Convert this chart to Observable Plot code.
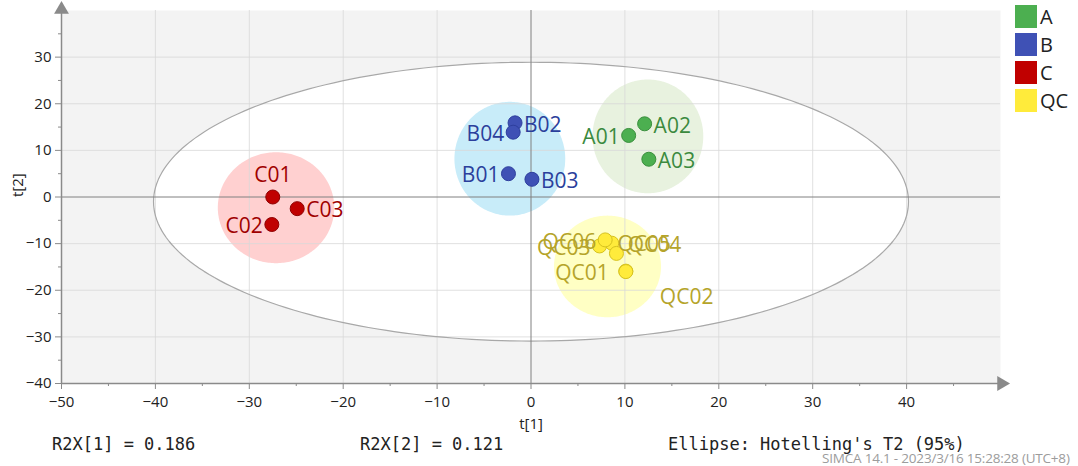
<!DOCTYPE html>
<html><head><meta charset="utf-8">
<script src="https://cdn.jsdelivr.net/npm/d3@7"></script>
<script src="https://cdn.jsdelivr.net/npm/@observablehq/plot@0.6"></script>
<style>
body{margin:0;background:#fff;}
#wrap{position:relative;width:1078px;height:466px;overflow:hidden;font-family:"Open Sans",sans-serif;}
#wrap svg{position:absolute;left:0;top:0;}
.legend{position:absolute;left:1015px;top:2px;}
.legend .item{display:flex;align-items:center;height:28px;}
.legend .sw{width:22px;height:23px;margin-right:3px;}
.legend .lab{font-size:20px;color:#222;line-height:23px;}
.stat{position:absolute;top:434px;font-family:"DejaVu Sans Mono",monospace;font-size:17px;color:#222;white-space:pre;}
.stamp{position:absolute;left:822px;top:449px;font-size:13.5px;color:#9c9c9c;white-space:pre;letter-spacing:-0.2px;}
</style></head><body><div id="wrap"></div>
<script>
// ---- data ----
const groups = ["A", "B", "C", "QC"];
const groupColors = ["#4caf50", "#3f51b5", "#c00000", "#ffeb3b"];
const groupStrokes = ["#3a8f3d", "#2e3f9e", "#8e0000", "#d6c21e"];
const labelColors = ["#3b8a3e", "#2b3f9c", "#a00000", "#b5a42a"];
const ellipseFills = ["#e8f2df", "#c8ecf9", "#ffd0d0", "#ffffc4"];

const sampleNames = ["A01","A02","A03","B01","B02","B03","B04","C01","C02","C03","QC01","QC02","QC03","QC04","QC05","QC06"];
const sampleGroups = ["A","A","A","B","B","B","B","C","C","C","QC","QC","QC","QC","QC","QC"];
const t1Values = [10.4, 12.1, 12.55, -2.4, -1.7, 0.1, -1.9, -27.5, -27.6, -24.9, 10.1, 10.1, 7.3, 8.6, 9.1, 7.9];
const t2Values = [13.2, 15.7, 8.1, 5.0, 15.9, 3.8, 13.9, 0.0, -5.9, -2.5, -15.9, -16.0, -10.5, -9.9, -12.1, -9.2];

// group confidence ellipses (center t1, center t2, radius t1, radius t2)
const groupCenterT1 = [12.5, -2.2, -27.1, 8.2];
const groupCenterT2 = [12.9, 8.1, -2.4, -15.0];
const groupRadiusT1 = [5.9, 5.9, 6.2, 5.7];
const groupRadiusT2 = [12.2, 12.2, 11.9, 10.9];

// Hotelling's T2 (95%) ellipse
const hotellingCenter = [0, -1.0];
const hotellingRadius = [40.2, 29.9];

const xTicks = [-50, -40, -30, -20, -10, 0, 10, 20, 30, 40];
const yTicks = [-40, -30, -20, -10, 0, 10, 20, 30];
const xMinor = [-45, -35, -25, -15, -5, 5, 15, 25, 35, 45];
const yMinor = [-35, -25, -15, -5, 5, 15, 25, 35];

const r2x1 = "0.186", r2x2 = "0.121";

// label placement (style)
const labelSide = {A01:"left",A02:"right",A03:"right",B01:"left",B02:"right",B03:"right",B04:"left",
  C01:"top",C02:"left",C03:"right",QC01:"farleft",QC02:"belowright",QC03:"left",QC04:"rightfar",QC05:"rightup",QC06:"left"};

// ---- build ----
const samples = sampleNames.map((n, i) => ({name: n, group: sampleGroups[i], t1: t1Values[i], t2: t2Values[i], side: labelSide[n]}));

function ellipseBand(cx, cy, rx, ry, extra) {
  const out = [];
  const N = 120;
  for (let i = 0; i <= N; i++) {
    const th = Math.PI - Math.PI * i / N;
    const s = Math.sin(th);
    out.push({x: cx + rx * Math.cos(th), y1: cy - ry * s, y2: cy + ry * s, ...extra});
  }
  return out;
}
function ellipseRing(cx, cy, rx, ry) {
  const out = [];
  const N = 240;
  for (let i = 0; i < N; i++) {
    const th = 2 * Math.PI * i / N;
    out.push({x: cx + rx * Math.cos(th), y: cy + ry * Math.sin(th)});
  }
  return out;
}
const groupBands = groups.flatMap((g, i) => ellipseBand(groupCenterT1[i], groupCenterT2[i], groupRadiusT1[i], groupRadiusT2[i], {group: g}));
const hotBand = ellipseBand(hotellingCenter[0], hotellingCenter[1], hotellingRadius[0], hotellingRadius[1], {});
const hotRing = ellipseRing(hotellingCenter[0], hotellingCenter[1], hotellingRadius[0], hotellingRadius[1]);

const colorScale = {domain: groups, range: groupColors};
const lblColor = d => labelColors[groups.indexOf(d.group)];
const strokeColor = d => groupStrokes[groups.indexOf(d.group)];
const fillOf = g => ellipseFills[groups.indexOf(g)];

const font = "Open Sans";
const labelFont = 21;
function labels(side, opts) {
  return Plot.text(samples.filter(d => d.side === side), {
    x: "t1", y: "t2", text: "name", fill: lblColor, fontSize: labelFont, fontFamily: font, ...opts
  });
}

const chart = Plot.plot({
  width: 1078, height: 466,
  marginLeft: 61, marginRight: 78, marginTop: 10, marginBottom: 83,
  x: {domain: [-50, 50], axis: null},
  y: {domain: [-40, 40], axis: null},
  style: {fontFamily: font, background: "transparent"},
  marks: [
    Plot.frame({fill: "#f3f3f3", stroke: null}),
    Plot.areaY(hotBand, {x: "x", y1: "y1", y2: "y2", fill: "#ffffff"}),
    ...groups.map(g => Plot.areaY(groupBands.filter(d => d.group === g), {x: "x", y1: "y1", y2: "y2", fill: fillOf(g)})),
    Plot.ruleX(xTicks.filter(v => v !== -50 && v !== 0), {stroke: "#d8d8d8", strokeOpacity: 0.8, strokeWidth: 1}),
    Plot.ruleY(yTicks.filter(v => v !== -40 && v !== 0), {stroke: "#d8d8d8", strokeOpacity: 0.8, strokeWidth: 1}),
    Plot.line(hotRing, {x: "x", y: "y", curve: "linear-closed", stroke: "#a8a8a8", strokeWidth: 1.2}),
    Plot.ruleX([0], {stroke: "#808080", strokeWidth: 1}),
    Plot.ruleY([0], {stroke: "#808080", strokeWidth: 1}),
    // axes
    Plot.ruleX([-50], {stroke: "#8a8a8a", strokeWidth: 1.5}),
    Plot.ruleY([-40], {stroke: "#8a8a8a", strokeWidth: 1.5}),
    Plot.dot([0], {frameAnchor: "top-left", symbol: "triangle", r: 5.5, fill: "#8a8a8a", stroke: null, dy: -1}),
    Plot.dot([0], {frameAnchor: "bottom-right", symbol: "triangle", r: 5.5, fill: "#8a8a8a", stroke: null, rotate: 90, dx: 1}),
    Plot.axisY({ticks: yTicks, tickSize: 6, tickPadding: 4, stroke: "#8a8a8a", fill: "#222", fontSize: 15, label: null}),
    Plot.axisY({ticks: yMinor, tickSize: 3, tickFormat: () => "", stroke: "#8a8a8a", label: null}),
    Plot.axisX({ticks: xTicks, tickSize: 6, tickPadding: 7, stroke: "#8a8a8a", fill: "#222", fontSize: 15, label: null}),
    Plot.axisX({ticks: xMinor, tickSize: 3, tickFormat: () => "", stroke: "#8a8a8a", label: null}),
    Plot.text(["t[1]"], {frameAnchor: "bottom", dy: 45, fontSize: 15, fill: "#222"}),
    Plot.text(["t[2]"], {frameAnchor: "left", dx: -43, rotate: -90, fontSize: 15, fill: "#222"}),
    // points
    Plot.dot(samples, {x: "t1", y: "t2", r: 7, fill: "group", stroke: strokeColor, strokeWidth: 1}),
    labels("right", {textAnchor: "start", dx: 9, dy: 2}),
    labels("rightfar", {textAnchor: "start", dx: 16, dy: 2}),
    labels("rightup", {textAnchor: "start", dx: 1, dy: -9}),
    labels("left", {textAnchor: "end", dx: -9, dy: 2}),
    labels("farleft", {textAnchor: "end", dx: -17, dy: 2}),
    labels("top", {textAnchor: "middle", dy: -22}),
    labels("belowright", {textAnchor: "start", dx: 34, dy: 26})
  ],
  color: colorScale
});

const wrap = document.getElementById("wrap");
wrap.appendChild(chart);

// legend
const leg = d3.select(wrap).append("div").attr("class", "legend");
groups.forEach((g, i) => {
  const it = leg.append("div").attr("class", "item");
  it.append("div").attr("class", "sw").style("background", groupColors[i]);
  it.append("div").attr("class", "lab").text(g);
});

// footer statistics
d3.select(wrap).append("div").attr("class", "stat").style("left", "52px").text("R2X[1] = " + r2x1);
d3.select(wrap).append("div").attr("class", "stat").style("left", "360px").text("R2X[2] = " + r2x2);
d3.select(wrap).append("div").attr("class", "stat").style("left", "668px").text("Ellipse: Hotelling's T2 (95%)");
d3.select(wrap).append("div").attr("class", "stamp").text("SIMCA 14.1 - 2023/3/16 15:28:28 (UTC+8)");
</script></body></html>
